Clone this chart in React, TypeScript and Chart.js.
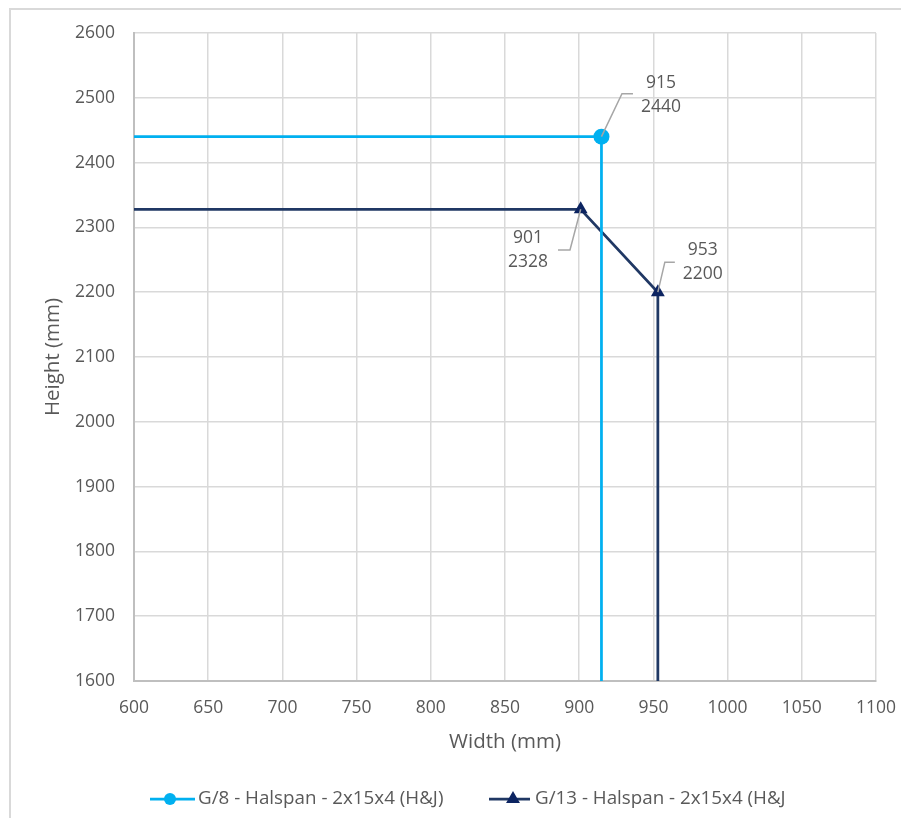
import React, { useEffect, useRef } from "react";
import { Chart, registerables } from "chart.js";

Chart.register(...registerables);

// ---- data ----
const g8Label = "G/8 - Halspan - 2x15x4 (H&J)";
const g8Width = [600, 915, 915];
const g8Height = [2440, 2440, 1600];
const g8Marked = [false, true, false];

const g13Label = "G/13 - Halspan - 2x15x4 (H&J";
const g13Width = [600, 901, 953, 953];
const g13Height = [2328, 2328, 2200, 1600];
const g13Marked = [false, true, true, false];

const xTickMin = 600;
const xTickMax = 1100;
const xTickStep = 50;
const yTickMin = 1600;
const yTickMax = 2600;
const yTickStep = 100;

const xTitle = "Width (mm)";
const yTitle = "Height (mm)";

// ---- styles ----
const FONT = "'Open Sans', 'Liberation Sans', sans-serif";
const TEXT = "#595959";
const GRID = "#d9d9d9";
const AXIS = "#bfbfbf";
const BLUE = "#00b0f0";
const NAVY_LINE = "#203864";
const NAVY_MARK = "#0c2461";
const LEADER = "#a6a6a6";

// label placement relative to the marked point (dx, dy of label middle; leader elbow & end)
const labelPlacement: Record<string, { dx: number; dy: number; ex: number; ey: number; fx: number; fy: number }> = {
  "0-1": { dx: 59.5, dy: -42, ex: 20.5, ey: -43, fx: 31.5, fy: -43 },
  "1-1": { dx: -52.7, dy: 40.7, ex: -10.7, ey: 40.7, fx: -22.7, fy: 40.7 },
  "1-2": { dx: 45, dy: -30, ex: 7, ey: -30, fx: 17, fy: -30 },
};

const dataLabelPlugin = {
  id: "dataLabels",
  afterDatasetsDraw(chart: any) {
    const ctx = chart.ctx;
    const markedSets = [g8Marked, g13Marked];
    chart.data.datasets.forEach((ds: any, di: number) => {
      const meta = chart.getDatasetMeta(di);
      meta.data.forEach((el: any, i: number) => {
        if (!markedSets[di][i]) return;
        const p = labelPlacement[`${di}-${i}`];
        if (!p) return;
        const pt = ds.data[i];
        const x = el.x;
        const y = el.y;
        ctx.save();
        ctx.strokeStyle = LEADER;
        ctx.lineWidth = 1.5;
        ctx.beginPath();
        ctx.moveTo(x, y);
        ctx.lineTo(x + p.ex, y + p.ey);
        ctx.lineTo(x + p.fx, y + p.fy);
        ctx.stroke();
        ctx.fillStyle = TEXT;
        ctx.font = `17.5px ${FONT}`;
        ctx.textAlign = "center";
        ctx.textBaseline = "middle";
        ctx.fillText(String(pt.x), x + p.dx, y + p.dy - 12);
        ctx.fillText(String(pt.y), x + p.dx, y + p.dy + 12);
        ctx.restore();
      });
    });
  },
};

const legendPlugin = {
  id: "customLegend",
  afterDraw(chart: any) {
    const ctx = chart.ctx;
    const y = 789;
    ctx.save();
    // item 1
    ctx.strokeStyle = BLUE;
    ctx.lineWidth = 2.75;
    ctx.beginPath();
    ctx.moveTo(139, y);
    ctx.lineTo(184, y);
    ctx.stroke();
    ctx.fillStyle = BLUE;
    ctx.beginPath();
    ctx.arc(159, y, 6, 0, Math.PI * 2);
    ctx.fill();
    // item 2
    ctx.strokeStyle = NAVY_LINE;
    ctx.beginPath();
    ctx.moveTo(478, y);
    ctx.lineTo(519, y);
    ctx.stroke();
    ctx.fillStyle = NAVY_MARK;
    const r = 8;
    ctx.beginPath();
    ctx.moveTo(502, y - r);
    ctx.lineTo(502 + r * 0.866, y + r * 0.5);
    ctx.lineTo(502 - r * 0.866, y + r * 0.5);
    ctx.closePath();
    ctx.fill();
    // texts
    ctx.fillStyle = TEXT;
    ctx.font = `18.8px ${FONT}`;
    ctx.textAlign = "left";
    ctx.textBaseline = "middle";
    ctx.fillText(g8Label, 187, y);
    ctx.fillText(g13Label, 524, y);
    ctx.restore();
  },
};

export default function App() {
  const canvasRef = useRef<HTMLCanvasElement | null>(null);

  useEffect(() => {
    if (!canvasRef.current) return;
    const g8Data = g8Width.map((w, i) => ({ x: w, y: g8Height[i] }));
    const g13Data = g13Width.map((w, i) => ({ x: w, y: g13Height[i] }));
    const chart = new Chart(canvasRef.current, {
      type: "scatter",
      data: {
        datasets: [
          {
            label: g8Label,
            data: g8Data,
            showLine: true,
            borderColor: BLUE,
            backgroundColor: BLUE,
            borderWidth: 2.75,
            pointStyle: "circle",
            pointRadius: g8Marked.map((m) => (m ? 8 : 0)),
            pointHoverRadius: 0,
            pointBackgroundColor: BLUE,
            pointBorderWidth: 0,
          },
          {
            label: g13Label,
            data: g13Data,
            showLine: true,
            borderColor: NAVY_LINE,
            backgroundColor: NAVY_MARK,
            borderWidth: 2.75,
            pointStyle: "triangle",
            pointRadius: g13Marked.map((m) => (m ? 8 : 0)),
            pointHoverRadius: 0,
            pointBackgroundColor: NAVY_MARK,
            pointBorderColor: NAVY_MARK,
            pointBorderWidth: 0,
          },
        ],
      },
      options: {
        responsive: false,
        animation: false,
        layout: { padding: { left: 0, top: 23, right: 32, bottom: 0 } },
        plugins: {
          legend: { display: false },
          tooltip: { enabled: false },
        },
        scales: {
          x: {
            type: "linear",
            min: xTickMin,
            max: xTickMax,
            afterFit: (s: any) => {
              s.height = 137;
            },
            ticks: {
              stepSize: xTickStep,
              color: TEXT,
              padding: 0,
              font: { family: FONT, size: 17.5 },
              callback: (v: any) => String(v),
            },
            grid: {
              color: GRID,
              lineWidth: 1.5,
              drawTicks: true,
              tickLength: 17,
              tickColor: "rgba(0,0,0,0)",
            },
            border: { color: AXIS, width: 2 },
            title: {
              display: true,
              text: xTitle,
              color: TEXT,
              font: { family: FONT, size: 20.5 },
              padding: { top: 0, bottom: 63.7 },
            },
          },
          y: {
            type: "linear",
            min: yTickMin,
            max: yTickMax,
            afterFit: (s: any) => {
              s.width = 123;
            },
            ticks: {
              stepSize: yTickStep,
              color: TEXT,
              padding: 0,
              font: { family: FONT, size: 17.5 },
              callback: (v: any) => String(v),
            },
            grid: {
              color: GRID,
              lineWidth: 1.5,
              drawTicks: true,
              tickLength: 19,
              tickColor: "rgba(0,0,0,0)",
            },
            border: { color: AXIS, width: 2 },
            title: {
              display: true,
              text: yTitle,
              color: TEXT,
              font: { family: FONT, size: 20.5 },
              padding: { top: 29.7, bottom: 0 },
            },
          },
        },
      },
      plugins: [dataLabelPlugin, legendPlugin],
    });
    return () => chart.destroy();
  }, []);

  return (
    <div
      style={{
        marginLeft: 1,
        borderTop: "2px solid #d9d9d9",
        borderLeft: "2px solid #d9d9d9",
        width: 897,
        height: 808,
        background: "#fff",
      }}
    >
      <canvas ref={canvasRef} width={897} height={808} style={{ display: "block" }} />
    </div>
  );
}
